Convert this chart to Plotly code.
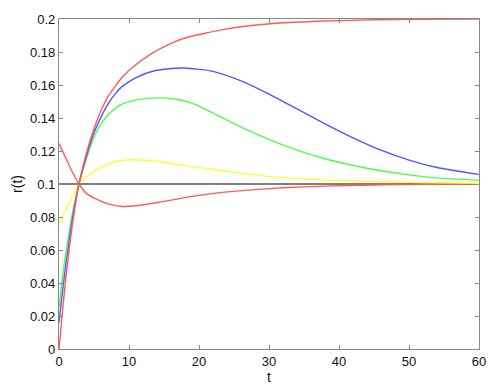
import plotly.graph_objects as go

# Data
t_red_hi = [0, 0.5, 1, 1.5, 2, 2.85, 4, 5, 6, 7, 8, 9, 10.3, 13.2, 15.8, 18, 24, 31, 38, 45, 52, 60]
r_red_hi = [0, 0.023, 0.044, 0.062, 0.078, 0.1, 0.12, 0.1335, 0.1445, 0.153, 0.159, 0.1645, 0.170,
            0.179, 0.1848, 0.1885, 0.194, 0.1974, 0.1988, 0.1995, 0.1998, 0.1999]

t_blue = [0, 0.5, 1, 1.5, 2, 2.85, 4, 5, 6, 7, 8, 9, 11, 13.5, 17.5, 22, 26, 30, 34, 38, 42, 46, 50, 54, 60]
r_blue = [0.016, 0.035, 0.052, 0.067, 0.081, 0.1, 0.118, 0.131, 0.1405, 0.1485, 0.1545, 0.159,
          0.1645, 0.1685, 0.1703, 0.1683, 0.1625, 0.1545, 0.1455, 0.1365, 0.128, 0.1205, 0.1145,
          0.110, 0.1058]

t_green = [0, 0.5, 1, 1.5, 2, 2.85, 4, 5, 6, 7, 8, 9, 11.5, 14, 16.5, 19, 22, 26, 30, 34, 38, 42,
           46, 50, 54, 60]
r_green = [0.025, 0.044, 0.059, 0.072, 0.084, 0.1, 0.1165, 0.1285, 0.1365, 0.1418, 0.1457, 0.1484,
           0.1513, 0.1522, 0.1515, 0.149, 0.143, 0.1345, 0.127, 0.1205, 0.1153, 0.1112, 0.108,
           0.1055, 0.1037, 0.1022]

t_yellow = [0, 0.5, 1, 1.5, 2, 2.85, 4, 5.5, 8, 10.3, 13, 15, 17, 19, 24, 28, 31.4, 38, 45, 52, 60]
r_yellow = [0.0753, 0.080, 0.0845, 0.089, 0.093, 0.1, 0.1045, 0.109, 0.1135, 0.1147, 0.1142,
            0.1132, 0.1118, 0.1105, 0.1077, 0.1055, 0.1040, 0.1024, 0.1015, 0.1009, 0.1005]

t_red_lo = [0, 1, 2, 2.85, 4, 5.5, 7, 9, 11, 13.6, 16, 19, 23, 27, 32, 38, 45, 52, 60]
r_red_lo = [0.1245, 0.1155, 0.1065, 0.1, 0.094, 0.0905, 0.088, 0.0864, 0.0868, 0.0885, 0.0902,
            0.0925, 0.0948, 0.0963, 0.0977, 0.0987, 0.0994, 0.0998, 0.1]

t_black = [0, 60]
r_black = [0.1, 0.1]

y_ticks = [0, 0.02, 0.04, 0.06, 0.08, 0.1, 0.12, 0.14, 0.16, 0.18, 0.2]
y_tick_labels = ["0", "0.02", "0.04", "0.06", "0.08", "0.1", "0.12", "0.14", "0.16", "0.18", "0.2"]
x_ticks = [0, 10, 20, 30, 40, 50, 60]
x_tick_labels = ["0", "10", "20", "30", "40", "50", "60"]

fig = go.Figure()
fig.add_trace(go.Scatter(x=t_black, y=r_black, mode="lines",
                         line=dict(color="#555555", width=1.5)))
series = [
    (t_red_lo, r_red_lo, "#ff5a5a"),
    (t_yellow, r_yellow, "#ffff33"),
    (t_green, r_green, "#4cff4c"),
    (t_blue, r_blue, "#5555ff"),
    (t_red_hi, r_red_hi, "#ff5a5a"),
]
for tx, ry, c in series:
    fig.add_trace(go.Scatter(x=tx, y=ry, mode="lines",
                             line=dict(color=c, width=1.4, shape="spline", smoothing=0.6)))

font = dict(family="Liberation Sans, Arial", size=13, color="#111111")
axis_common = dict(showgrid=False, zeroline=False, showline=True, linecolor="#888888",
                   linewidth=1.2, mirror="ticks", ticks="inside", ticklen=4,
                   tickcolor="#888888", tickfont=font, automargin=False)
fig.update_xaxes(range=[0, 60], tickvals=x_ticks, ticktext=x_tick_labels,
                 title=dict(text="t", font=dict(font, size=14), standoff=2),
                 **axis_common)
fig.update_yaxes(range=[0, 0.2], tickvals=y_ticks, ticktext=y_tick_labels,
                 title=dict(text="r(t)", font=dict(font, size=14), standoff=4),
                 **axis_common)
fig.update_layout(width=496, height=390, showlegend=False,
                  margin=dict(l=59, r=17, t=19, b=41),
                  plot_bgcolor="white", paper_bgcolor="white")
fig.write_html("out.html", config={"displayModeBar": False},
               post_script="document.body.style.margin='0';document.body.style.overflow='hidden';")
